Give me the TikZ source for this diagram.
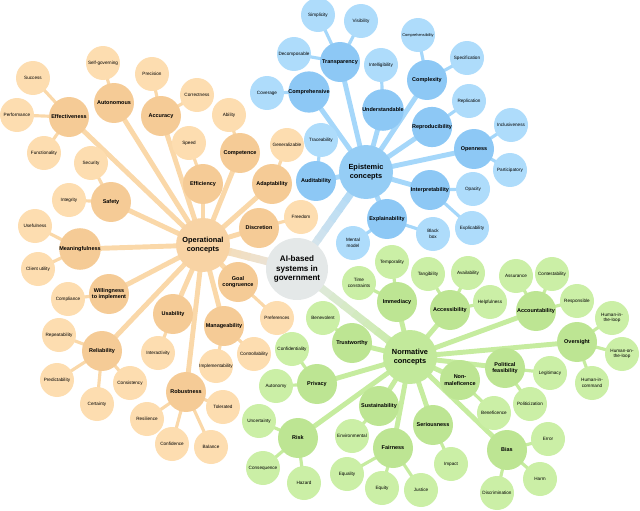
\documentclass[tikz,border=0pt]{standalone}
\usepackage{fontspec}
\setmainfont{Liberation Sans}
\usetikzlibrary{backgrounds,calc}

\definecolor{opleaf}{HTML}{FDDDB0}
\definecolor{opmid}{HTML}{F5CB96}
\definecolor{ophub}{HTML}{F8D3A4}
\definecolor{oplink}{HTML}{FAD8A9}
\definecolor{epleaf}{HTML}{AEDCFB}
\definecolor{epmid}{HTML}{8DC8F5}
\definecolor{ephub}{HTML}{95CDF5}
\definecolor{eplink}{HTML}{A5D7FA}
\definecolor{noleaf}{HTML}{CBEFA6}
\definecolor{nomid}{HTML}{BDE593}
\definecolor{nohub}{HTML}{C2E99B}
\definecolor{nolink}{HTML}{C6EC9F}
\definecolor{centre}{HTML}{E4E8E8}

\tikzset{
    leaf/.style={circle, fill=#1, minimum size=1.7cm, inner sep=0pt, align=center,
        font=\fontsize{6.6}{7.6}\selectfont},
    concept/.style={circle, fill=#1, minimum size=2cm, inner sep=0pt, align=center,
        font=\bfseries\fontsize{7.8}{9.4}\selectfont},
    hub/.style={circle, fill=#1, minimum size=2.7cm, inner sep=0pt, align=center,
        font=\bfseries\fontsize{10.5}{12.6}\selectfont},
    twig/.style={line width=4.5pt, draw=#1},
    branch/.style={line width=7pt, draw=#1},
}

\begin{document}
\begin{tikzpicture}[x=0.05cm, y=-0.05cm]
    \useasboundingbox (0,0) rectangle (640,511);

    % centre and the three hubs
    \node[circle, fill=centre, minimum size=3.1cm, inner sep=0pt, align=center,
        font=\bfseries\fontsize{11.5}{13.5}\selectfont] (ai) at (297,269) {AI-based\\systems in\\government};
    \node[hub=ophub] (opc) at (203,245) {Operational\\concepts};
    \node[hub=ephub] (epc) at (366,172) {Epistemic\\concepts};
    \node[hub=nohub] (noc) at (410,357) {Normative\\concepts};

    % operational concepts
    \def\opmids{eff/69/117/Effectiveness, auton/114/103/Autonomous, accu/161/116/Accuracy,
        effi/203/184/Efficiency, comp/240/153/Competence, adap/272/184/Adaptability,
        disc/259/228/Discretion, safe/111/202/Safety, mean/80/249/Meaningfulness,
        will/109/294/{Willingness\\to implement}, reli/102/351/Reliability,
        usab/173/314/Usability, robu/186/392/Robustness, mana/224/326/Manageability,
        goal/238/282/{Goal\\congruence}}
    \def\opleaves{succ/eff/33/78/Success, perf/eff/17/115/Performance,
        func/eff/44/153/Functionality, selfg/auton/103/63/Self-governing,
        prec/accu/152/74/Precision, corr/accu/197/95/Correctness, speed/effi/189/143/Speed,
        abil/comp/229/115/Ability, gene/adap/287/145/Generalizable, free/disc/301/217/Freedom,
        secu/safe/91/163/Security, inte/safe/69/200/Integrity, usef/mean/35/226/Usefulness,
        clie/mean/38/269/Client utility, compl/will/68/299/Compliance,
        repe/reli/59/335/Repeatability, pred/reli/57/380/Predictability,
        cert/reli/97/404/Certainty, cons/reli/130/383/Consistency,
        inter/usab/158/353/Interactivity, resi/robu/147/419/Resilience,
        conf/robu/172/444/Confidence, bala/robu/211/447/Balance, tole/robu/223/407/Tolerated,
        impl/mana/216/366/Implementability, cont/mana/254/354/Controllability,
        pref/goal/277/318/Preferences}

    % epistemic concepts
    \def\epmids{audi/316/181/Auditability, cmpv/309/92/Comprehensive,
        tran/340/62/Transparency, unde/383/110/Understandable, cplx/427/80/Complexity,
        repr/432/127/Reproducibility, open/474/149/Openness,
        intp/430/190/Interpretability, expl/387/219/Explainability}
    \def\epleaves{trac/audi/321/140/Traceability, cove/cmpv/267/93/Coverage,
        simp/tran/318/15/Simplicity, visi/tran/361/21/Visibility,
        deco/tran/294/54/Decomposable, intl/unde/381/65/Intelligibility,
        cphb/cplx/418/35/{\fontsize{5.6}{6}\selectfont Comprehensibility},
        spec/cplx/467/58/Specification, repl/repr/469/101/Replication,
        incl/open/511/125/Inclusiveness, part/open/510/170/Participatory,
        opac/intp/473/189/Opacity, expb/intp/472/228/Explicability,
        ment/expl/353/243/{Mental\\model}, blac/expl/433/234/{Black\\box}}

    % normative concepts
    \def\nomids{imme/397/302/Immediacy, acce/450/310/Accessibility,
        acco/536/311/Accountability, over/577/342/Oversight,
        poli/505/368/{Political\\feasibility}, nonm/460/380/{Non-\\maleficence},
        bias/507/450/Bias, seri/433/425/Seriousness, fair/393/448/Fairness,
        sust/379/406/Sustainability, risk/298/438/Risk, priv/317/384/Privacy,
        trus/352/343/Trustworthy}
    \def\noleaves{temp/imme/392/262/Temporality, time/imme/359/283/{Time\\constraints},
        tang/acce/428/274/Tangibility, avai/acce/468/273/Availability,
        help/acce/490/302/Helpfulness, assu/acco/516/276/Assurance,
        cnte/acco/552/274/Contestability, resp/acco/577/301/Responsible,
        hitl/over/612/318/{Human-in-\\the-loop}, hotl/over/622/354/{Human-on-\\the-loop},
        hic/over/592/383/{Human-in-\\command}, legi/poli/550/373/Legitimacy,
        pols/poli/530/404/Politicization, bene/nonm/494/413/Beneficence,
        erro/bias/548/439/Error, harm/bias/540/479/Harm,
        dscr/bias/497/493/Discrimination, impa/seri/451/464/Impact,
        eqly/fair/347/474/Equality, eqty/fair/382/488/Equity, just/fair/421/490/Justice,
        envi/sust/352/436/Environmental, unce/risk/259/421/Uncertainty,
        cnsq/risk/263/468/Consequence, haza/risk/304/483/Hazard,
        cnfd/priv/292/349/Confidentiality, atny/priv/276/386/Autonomy,
        benv/trus/323/318/Benevolent}

    \foreach \n/\x/\y/\t in \opmids {\node[concept=opmid] (\n) at (\x,\y) {\t};}
    \foreach \n/\p/\x/\y/\t in \opleaves {\node[leaf=opleaf] (\n) at (\x,\y) {\t};}
    \foreach \n/\x/\y/\t in \epmids {\node[concept=epmid] (\n) at (\x,\y) {\t};}
    \foreach \n/\p/\x/\y/\t in \epleaves {\node[leaf=epleaf] (\n) at (\x,\y) {\t};}
    \foreach \n/\x/\y/\t in \nomids {\node[concept=nomid] (\n) at (\x,\y) {\t};}
    \foreach \n/\p/\x/\y/\t in \noleaves {\node[leaf=noleaf] (\n) at (\x,\y) {\t};}

    \begin{scope}[on background layer]
        % fading links from the centre
        \foreach \h/\c in {opc/oplink, epc/eplink, noc/nolink}{
            \foreach \i in {0,...,9}{
                \pgfmathsetmacro\s{\i/10}
                \pgfmathsetmacro\e{(\i+1.2)/10}
                \pgfmathtruncatemacro\m{\i*10+5}
                \draw[line width=11pt, draw=\c!\m!centre]
                    ($(ai.center)!\s!(\h.center)$) -- ($(ai.center)!\e!(\h.center)$);
            }
        }
        \foreach \n/\x/\y/\t in \opmids {\draw[branch=oplink] (opc.center) -- (\n.center);}
        \foreach \n/\p/\x/\y/\t in \opleaves {\draw[twig=oplink] (\p.center) -- (\n.center);}
        \foreach \n/\x/\y/\t in \epmids {\draw[branch=eplink] (epc.center) -- (\n.center);}
        \foreach \n/\p/\x/\y/\t in \epleaves {\draw[twig=eplink] (\p.center) -- (\n.center);}
        \foreach \n/\x/\y/\t in \nomids {\draw[branch=nolink] (noc.center) -- (\n.center);}
        \foreach \n/\p/\x/\y/\t in \noleaves {\draw[twig=nolink] (\p.center) -- (\n.center);}
    \end{scope}
\end{tikzpicture}
\end{document}
